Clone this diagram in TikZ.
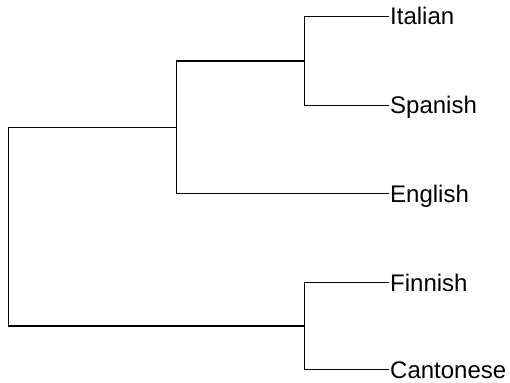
\documentclass[tikz,border=0pt]{standalone}
\usepackage{fontspec}
\setmainfont{Liberation Sans}
\begin{document}
\begin{tikzpicture}[x=1pt,y=-1pt,
  leaf/.style={anchor=west,inner xsep=1pt,inner ysep=0pt,text height=17pt,text depth=0pt,font=\fontsize{24}{24}\selectfont},
  branch/.style={draw=black,line width=1.3pt}]
\useasboundingbox (0,0) rectangle (510,382);
\node[leaf] (it) at (389,16.5) {Italian};
\node[leaf] (sp) at (389,105.5) {Spanish};
\node[leaf] (en) at (389,193.5) {English};
\node[leaf] (fi) at (389,282.5) {Finnish};
\node[leaf] (ca) at (389,369.5) {Cantonese};
\coordinate (is) at (304.5,61);
\coordinate (ise) at (176.5,127.5);
\coordinate (fc) at (304.5,326);
\coordinate (root) at (8.5,226.5);
\draw[branch] (is) |- (it.west);
\draw[branch] (is) |- (sp.west);
\draw[branch] (ise) |- (is);
\draw[branch] (ise) |- (en.west);
\draw[branch] (root) |- (ise);
\draw[branch] (root) |- (fc);
\draw[branch] (fc) |- (fi.west);
\draw[branch] (fc) |- (ca.west);
\end{tikzpicture}
\end{document}
